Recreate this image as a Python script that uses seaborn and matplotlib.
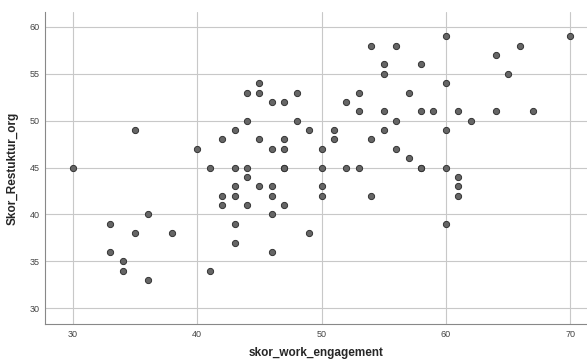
import pandas as pd
import matplotlib
matplotlib.use("Agg")
import matplotlib.pyplot as plt
import seaborn as sns

# values
work_engagement = [
    30, 35, 33, 33, 34, 34, 35, 36, 36, 38,
    40, 41, 41, 42, 42, 42,
    43, 43, 43, 43, 43, 43,
    44, 44, 44, 44, 44,
    45, 45, 45, 45,
    46, 46, 46, 46, 46, 46,
    47, 47, 47, 47, 47, 47,
    48, 48, 49, 49,
    50, 50, 50, 50,
    51, 51, 52, 52, 53, 53, 53,
    54, 54, 54, 55, 55, 55, 55,
    56, 56, 56, 57, 57,
    58, 58, 58, 58, 59,
    60, 60, 60, 60, 60,
    61, 61, 61, 61, 62,
    64, 64, 65, 66, 67, 70,
]
restruktur_org = [
    45, 49, 39, 36, 35, 34, 38, 40, 33, 38,
    47, 45, 34, 48, 42, 41,
    49, 45, 43, 42, 39, 37,
    53, 50, 45, 44, 41,
    54, 53, 48, 43,
    52, 47, 43, 42, 40, 36,
    52, 48, 47, 45, 45, 41,
    53, 50, 49, 38,
    47, 45, 43, 42,
    49, 48, 52, 45, 53, 51, 45,
    58, 48, 42, 56, 55, 51, 49,
    58, 50, 47, 53, 46,
    56, 51, 45, 45, 51,
    59, 54, 49, 45, 39,
    51, 44, 43, 42, 50,
    57, 51, 55, 58, 51, 59,
]

df = pd.DataFrame({"skor_work_engagement": work_engagement,
                   "Skor_Restuktur_org": restruktur_org})

sns.set_theme(style="white")
plt.rcParams["font.family"] = ["Liberation Sans", "DejaVu Sans"]

fig = plt.figure(figsize=(5.87, 3.63), dpi=100)
ax = fig.add_axes([0.077, 0.107, 0.923, 0.86])

sns.scatterplot(data=df, x="skor_work_engagement", y="Skor_Restuktur_org",
                ax=ax, s=20, color="#666666", edgecolor="#333333",
                linewidth=0.7, zorder=3)

ax.set_xlim(27.77, 71.35)
ax.set_ylim(28.3, 61.6)
ax.set_xticks([30, 40, 50, 60, 70])
ax.set_yticks([30, 35, 40, 45, 50, 55, 60])
ax.grid(True, color="#c8c8c8", linewidth=0.8)
ax.set_axisbelow(True)

for side in ["top", "right"]:
    ax.spines[side].set_visible(False)
for side in ["left", "bottom"]:
    ax.spines[side].set_color("#888888")
    ax.spines[side].set_linewidth(0.8)

ax.tick_params(axis="both", length=0, labelsize=6.5, labelcolor="#444444", pad=4)
ax.set_xlabel("skor_work_engagement", fontsize=8.5, fontweight="bold", labelpad=6)
ax.set_ylabel("Skor_Restuktur_org", fontsize=8.5, fontweight="bold", labelpad=8)

fig.savefig("out.png", dpi=100)
